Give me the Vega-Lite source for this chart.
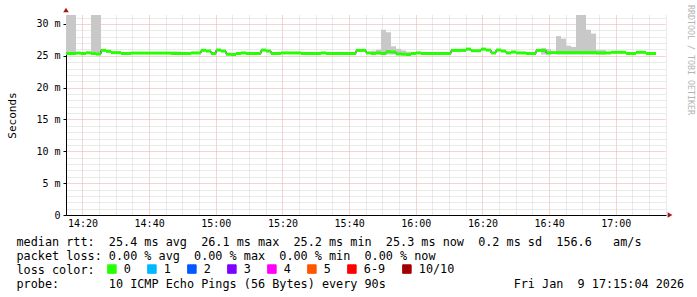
{
  "$schema": "https://vega.github.io/schema/vega-lite/v6.json",
  "width": 600,
  "height": 200,
  "autosize": {"type": "none"},
  "padding": {"left": 66, "top": 15, "right": 31, "bottom": 82},
  "background": "white",
  "config": {"view": {"stroke": null}, "font": "DejaVu Sans Mono"},
  "title": {"text": "RRDTOOL / TOBI OETIKER", "orient": "right", "anchor": "start", "frame": "group", "angle": 90, "baseline": "bottom", "dx": -10, "font": "DejaVu Sans Mono", "fontSize": 8.3, "fontWeight": "normal", "color": "#b4b4b4", "offset": -6},
  "layer": [
    {
      "data": {
        "values": [
          {"t": "2026-01-09T14:15:04", "e": "2026-01-09T14:16:34", "lo": 25.2, "hi": 33},
          {"t": "2026-01-09T14:16:34", "e": "2026-01-09T14:18:04", "lo": 25.2, "hi": 33},
          {"t": "2026-01-09T14:22:34", "e": "2026-01-09T14:24:04", "lo": 25.2, "hi": 33},
          {"t": "2026-01-09T14:24:04", "e": "2026-01-09T14:25:34", "lo": 25.2, "hi": 33},
          {"t": "2026-01-09T14:31:34", "e": "2026-01-09T14:33:04", "lo": 25.2, "hi": 25.6},
          {"t": "2026-01-09T14:46:34", "e": "2026-01-09T14:48:04", "lo": 25.2, "hi": 25.7},
          {"t": "2026-01-09T14:48:04", "e": "2026-01-09T14:49:34", "lo": 25.2, "hi": 25.7},
          {"t": "2026-01-09T15:28:34", "e": "2026-01-09T15:30:04", "lo": 25.2, "hi": 25.55},
          {"t": "2026-01-09T15:30:04", "e": "2026-01-09T15:31:34", "lo": 25.2, "hi": 25.55},
          {"t": "2026-01-09T15:46:34", "e": "2026-01-09T15:48:04", "lo": 25.2, "hi": 25.8},
          {"t": "2026-01-09T15:48:04", "e": "2026-01-09T15:49:34", "lo": 25.2, "hi": 25.95},
          {"t": "2026-01-09T15:49:34", "e": "2026-01-09T15:51:04", "lo": 25.2, "hi": 29.1},
          {"t": "2026-01-09T15:51:04", "e": "2026-01-09T15:52:34", "lo": 25.2, "hi": 28.7},
          {"t": "2026-01-09T15:52:34", "e": "2026-01-09T15:54:04", "lo": 25.2, "hi": 26.5},
          {"t": "2026-01-09T15:54:04", "e": "2026-01-09T15:55:34", "lo": 25.2, "hi": 26.1},
          {"t": "2026-01-09T15:55:34", "e": "2026-01-09T15:57:04", "lo": 25.2, "hi": 25.85},
          {"t": "2026-01-09T15:57:04", "e": "2026-01-09T15:58:34", "lo": 25.2, "hi": 25.65},
          {"t": "2026-01-09T16:37:34", "e": "2026-01-09T16:39:04", "lo": 25.2, "hi": 26.2},
          {"t": "2026-01-09T16:39:04", "e": "2026-01-09T16:40:34", "lo": 25.2, "hi": 26.05},
          {"t": "2026-01-09T16:42:04", "e": "2026-01-09T16:43:34", "lo": 25.2, "hi": 28.1},
          {"t": "2026-01-09T16:43:34", "e": "2026-01-09T16:45:04", "lo": 25.2, "hi": 27.7},
          {"t": "2026-01-09T16:45:04", "e": "2026-01-09T16:46:34", "lo": 25.2, "hi": 26.6},
          {"t": "2026-01-09T16:46:34", "e": "2026-01-09T16:48:04", "lo": 25.2, "hi": 26.4},
          {"t": "2026-01-09T16:48:04", "e": "2026-01-09T16:49:34", "lo": 25.2, "hi": 33},
          {"t": "2026-01-09T16:49:34", "e": "2026-01-09T16:51:04", "lo": 25.2, "hi": 33},
          {"t": "2026-01-09T16:51:04", "e": "2026-01-09T16:52:34", "lo": 25.2, "hi": 29.1},
          {"t": "2026-01-09T16:52:34", "e": "2026-01-09T16:54:04", "lo": 25.2, "hi": 28.5},
          {"t": "2026-01-09T16:54:04", "e": "2026-01-09T16:55:34", "lo": 25.2, "hi": 25.9},
          {"t": "2026-01-09T16:55:34", "e": "2026-01-09T16:57:04", "lo": 25.2, "hi": 25.9}
        ]
      },
      "mark": {"type": "rect", "color": "#c8c8c8", "clip": true},
      "encoding": {
        "x": {
          "field": "t", "type": "temporal",
          "scale": {"nice": false, "domain": [
            {"year": 2026, "month": 1, "date": 9, "hours": 14, "minutes": 15, "seconds": 4},
            {"year": 2026, "month": 1, "date": 9, "hours": 17, "minutes": 15, "seconds": 4}]},
          "axis": {
            "tickCount": 36,
            "labelExpr": "minutes(datum.value) % 20 == 0 ? timeFormat(datum.value, '%H:%M') : ''",
            "labelFont": "DejaVu Sans Mono", "labelFontSize": 10, "labelColor": "black",
            "labelPadding": 3, "labelFlush": false, "labelOverlap": false,
            "ticks": false, "domainColor": "black",
            "gridColor": {"condition": {"test": "minutes(datum.value) % 20 == 0", "value": "#e6aaaa"}, "value": "#d4d4d4"},
            "gridDash": [1, 1],
            "title": [
              "median rtt:\u00a0\u00a025.4 ms avg\u00a0\u00a026.1 ms max\u00a0\u00a025.2 ms min\u00a0\u00a025.3 ms now\u00a0\u00a00.2 ms sd\u00a0\u00a0156.6\u00a0\u00a0\u00a0am/s",
              "packet loss: 0.00 % avg\u00a0\u00a00.00 % max\u00a0\u00a00.00 % min\u00a0\u00a00.00 % now",
              "loss color:",
              "probe:\u00a0\u00a0\u00a0\u00a0\u00a0\u00a0\u00a010 ICMP Echo Pings (56 Bytes) every 90s\u00a0\u00a0\u00a0\u00a0\u00a0\u00a0\u00a0\u00a0\u00a0\u00a0\u00a0\u00a0\u00a0\u00a0\u00a0\u00a0\u00a0\u00a0Fri Jan\u00a0\u00a09 17:15:04 2026"
            ],
            "titleFont": "DejaVu Sans Mono", "titleFontSize": 11.8, "titleFontWeight": "normal",
            "titleColor": "black", "titleAlign": "left", "titleBaseline": "alphabetic",
            "titleX": -50, "titleY": 30, "titleLineHeight": 14, "titleLimit": 2000
          }
        },
        "x2": {"field": "e"},
        "y": {
          "field": "lo", "type": "quantitative",
          "scale": {"domain": [0, 31.41], "nice": false, "zero": true},
          "axis": {
            "values": [0,1,2,3,4,5,6,7,8,9,10,11,12,13,14,15,16,17,18,19,20,21,22,23,24,25,26,27,28,29,30,31],
            "tickCount": 40,
            "labelExpr": "datum.value % 5 == 0 ? (datum.value == 0 ? '0' : datum.value + ' m') : ''",
            "labelFont": "DejaVu Sans Mono", "labelFontSize": 10, "labelColor": "black",
            "labelPadding": 3, "tickSize": 3,
            "tickColor": {"condition": {"test": "datum.value % 5 == 0", "value": "black"}, "value": "transparent"},
            "domainColor": "black",
            "gridColor": {"condition": {"test": "datum.value % 5 == 0", "value": "#e6aaaa"}, "value": "#d4d4d4"},
            "gridDash": [1, 1],
            "title": "Seconds", "titleFont": "DejaVu Sans Mono", "titleFontSize": 11,
            "titleFontWeight": "normal", "titleColor": "black", "titleAngle": -90,
            "titleX": -51, "titleY": 100, "titleAlign": "center", "titleBaseline": "alphabetic"
          }
        },
        "y2": {"field": "hi"}
      }
    },
    {
      "data": {
        "values": [
          {"t": "2026-01-09T14:15:04", "e": "2026-01-09T14:16:34", "m": 25.36},
          {"t": "2026-01-09T14:16:34", "e": "2026-01-09T14:18:04", "m": 25.36},
          {"t": "2026-01-09T14:18:04", "e": "2026-01-09T14:19:34", "m": 25.43},
          {"t": "2026-01-09T14:19:34", "e": "2026-01-09T14:21:04", "m": 25.36},
          {"t": "2026-01-09T14:21:04", "e": "2026-01-09T14:22:34", "m": 25.47},
          {"t": "2026-01-09T14:22:34", "e": "2026-01-09T14:24:04", "m": 25.36},
          {"t": "2026-01-09T14:24:04", "e": "2026-01-09T14:25:34", "m": 25.28},
          {"t": "2026-01-09T14:25:34", "e": "2026-01-09T14:27:04", "m": 25.86},
          {"t": "2026-01-09T14:27:04", "e": "2026-01-09T14:28:34", "m": 25.7},
          {"t": "2026-01-09T14:28:34", "e": "2026-01-09T14:30:04", "m": 25.5},
          {"t": "2026-01-09T14:30:04", "e": "2026-01-09T14:31:34", "m": 25.5},
          {"t": "2026-01-09T14:31:34", "e": "2026-01-09T14:33:04", "m": 25.36},
          {"t": "2026-01-09T14:33:04", "e": "2026-01-09T14:34:34", "m": 25.36},
          {"t": "2026-01-09T14:34:34", "e": "2026-01-09T14:36:04", "m": 25.43},
          {"t": "2026-01-09T14:36:04", "e": "2026-01-09T14:37:34", "m": 25.43},
          {"t": "2026-01-09T14:37:34", "e": "2026-01-09T14:39:04", "m": 25.43},
          {"t": "2026-01-09T14:39:04", "e": "2026-01-09T14:40:34", "m": 25.43},
          {"t": "2026-01-09T14:40:34", "e": "2026-01-09T14:42:04", "m": 25.43},
          {"t": "2026-01-09T14:42:04", "e": "2026-01-09T14:43:34", "m": 25.43},
          {"t": "2026-01-09T14:43:34", "e": "2026-01-09T14:45:04", "m": 25.43},
          {"t": "2026-01-09T14:45:04", "e": "2026-01-09T14:46:34", "m": 25.43},
          {"t": "2026-01-09T14:46:34", "e": "2026-01-09T14:48:04", "m": 25.36},
          {"t": "2026-01-09T14:48:04", "e": "2026-01-09T14:49:34", "m": 25.36},
          {"t": "2026-01-09T14:49:34", "e": "2026-01-09T14:51:04", "m": 25.36},
          {"t": "2026-01-09T14:51:04", "e": "2026-01-09T14:52:34", "m": 25.36},
          {"t": "2026-01-09T14:52:34", "e": "2026-01-09T14:54:04", "m": 25.45},
          {"t": "2026-01-09T14:54:04", "e": "2026-01-09T14:55:34", "m": 25.45},
          {"t": "2026-01-09T14:55:34", "e": "2026-01-09T14:57:04", "m": 25.86},
          {"t": "2026-01-09T14:57:04", "e": "2026-01-09T14:58:34", "m": 25.75},
          {"t": "2026-01-09T14:58:34", "e": "2026-01-09T15:00:04", "m": 25.36},
          {"t": "2026-01-09T15:00:04", "e": "2026-01-09T15:01:34", "m": 25.9},
          {"t": "2026-01-09T15:01:34", "e": "2026-01-09T15:03:04", "m": 25.75},
          {"t": "2026-01-09T15:03:04", "e": "2026-01-09T15:04:34", "m": 25.25},
          {"t": "2026-01-09T15:04:34", "e": "2026-01-09T15:06:04", "m": 25.2},
          {"t": "2026-01-09T15:06:04", "e": "2026-01-09T15:07:34", "m": 25.36},
          {"t": "2026-01-09T15:07:34", "e": "2026-01-09T15:09:04", "m": 25.45},
          {"t": "2026-01-09T15:09:04", "e": "2026-01-09T15:10:34", "m": 25.36},
          {"t": "2026-01-09T15:10:34", "e": "2026-01-09T15:12:04", "m": 25.36},
          {"t": "2026-01-09T15:12:04", "e": "2026-01-09T15:13:34", "m": 25.36},
          {"t": "2026-01-09T15:13:34", "e": "2026-01-09T15:15:04", "m": 25.9},
          {"t": "2026-01-09T15:15:04", "e": "2026-01-09T15:16:34", "m": 25.75},
          {"t": "2026-01-09T15:16:34", "e": "2026-01-09T15:18:04", "m": 25.36},
          {"t": "2026-01-09T15:18:04", "e": "2026-01-09T15:19:34", "m": 25.36},
          {"t": "2026-01-09T15:19:34", "e": "2026-01-09T15:21:04", "m": 25.45},
          {"t": "2026-01-09T15:21:04", "e": "2026-01-09T15:22:34", "m": 25.45},
          {"t": "2026-01-09T15:22:34", "e": "2026-01-09T15:24:04", "m": 25.45},
          {"t": "2026-01-09T15:24:04", "e": "2026-01-09T15:25:34", "m": 25.45},
          {"t": "2026-01-09T15:25:34", "e": "2026-01-09T15:27:04", "m": 25.36},
          {"t": "2026-01-09T15:27:04", "e": "2026-01-09T15:28:34", "m": 25.36},
          {"t": "2026-01-09T15:28:34", "e": "2026-01-09T15:30:04", "m": 25.36},
          {"t": "2026-01-09T15:30:04", "e": "2026-01-09T15:31:34", "m": 25.36},
          {"t": "2026-01-09T15:31:34", "e": "2026-01-09T15:33:04", "m": 25.45},
          {"t": "2026-01-09T15:33:04", "e": "2026-01-09T15:34:34", "m": 25.36},
          {"t": "2026-01-09T15:34:34", "e": "2026-01-09T15:36:04", "m": 25.36},
          {"t": "2026-01-09T15:36:04", "e": "2026-01-09T15:37:34", "m": 25.36},
          {"t": "2026-01-09T15:37:34", "e": "2026-01-09T15:39:04", "m": 25.36},
          {"t": "2026-01-09T15:39:04", "e": "2026-01-09T15:40:34", "m": 25.36},
          {"t": "2026-01-09T15:40:34", "e": "2026-01-09T15:42:04", "m": 25.36},
          {"t": "2026-01-09T15:42:04", "e": "2026-01-09T15:43:34", "m": 25.85},
          {"t": "2026-01-09T15:43:34", "e": "2026-01-09T15:45:04", "m": 25.85},
          {"t": "2026-01-09T15:45:04", "e": "2026-01-09T15:46:34", "m": 25.45},
          {"t": "2026-01-09T15:46:34", "e": "2026-01-09T15:48:04", "m": 25.36},
          {"t": "2026-01-09T15:48:04", "e": "2026-01-09T15:49:34", "m": 25.45},
          {"t": "2026-01-09T15:49:34", "e": "2026-01-09T15:51:04", "m": 25.36},
          {"t": "2026-01-09T15:51:04", "e": "2026-01-09T15:52:34", "m": 25.65},
          {"t": "2026-01-09T15:52:34", "e": "2026-01-09T15:54:04", "m": 25.6},
          {"t": "2026-01-09T15:54:04", "e": "2026-01-09T15:55:34", "m": 25.3},
          {"t": "2026-01-09T15:55:34", "e": "2026-01-09T15:57:04", "m": 25.25},
          {"t": "2026-01-09T15:57:04", "e": "2026-01-09T15:58:34", "m": 25.2},
          {"t": "2026-01-09T15:58:34", "e": "2026-01-09T16:00:04", "m": 25.36},
          {"t": "2026-01-09T16:00:04", "e": "2026-01-09T16:01:34", "m": 25.45},
          {"t": "2026-01-09T16:01:34", "e": "2026-01-09T16:03:04", "m": 25.36},
          {"t": "2026-01-09T16:03:04", "e": "2026-01-09T16:04:34", "m": 25.36},
          {"t": "2026-01-09T16:04:34", "e": "2026-01-09T16:06:04", "m": 25.36},
          {"t": "2026-01-09T16:06:04", "e": "2026-01-09T16:07:34", "m": 25.36},
          {"t": "2026-01-09T16:07:34", "e": "2026-01-09T16:09:04", "m": 25.36},
          {"t": "2026-01-09T16:09:04", "e": "2026-01-09T16:10:34", "m": 25.36},
          {"t": "2026-01-09T16:10:34", "e": "2026-01-09T16:12:04", "m": 25.85},
          {"t": "2026-01-09T16:12:04", "e": "2026-01-09T16:13:34", "m": 25.85},
          {"t": "2026-01-09T16:13:34", "e": "2026-01-09T16:15:04", "m": 25.85},
          {"t": "2026-01-09T16:15:04", "e": "2026-01-09T16:16:34", "m": 26.05},
          {"t": "2026-01-09T16:16:34", "e": "2026-01-09T16:18:04", "m": 25.8},
          {"t": "2026-01-09T16:18:04", "e": "2026-01-09T16:19:34", "m": 25.8},
          {"t": "2026-01-09T16:19:34", "e": "2026-01-09T16:21:04", "m": 26.05},
          {"t": "2026-01-09T16:21:04", "e": "2026-01-09T16:22:34", "m": 25.9},
          {"t": "2026-01-09T16:22:34", "e": "2026-01-09T16:24:04", "m": 25.45},
          {"t": "2026-01-09T16:24:04", "e": "2026-01-09T16:25:34", "m": 25.9},
          {"t": "2026-01-09T16:25:34", "e": "2026-01-09T16:27:04", "m": 25.75},
          {"t": "2026-01-09T16:27:04", "e": "2026-01-09T16:28:34", "m": 25.45},
          {"t": "2026-01-09T16:28:34", "e": "2026-01-09T16:30:04", "m": 25.6},
          {"t": "2026-01-09T16:30:04", "e": "2026-01-09T16:31:34", "m": 25.45},
          {"t": "2026-01-09T16:31:34", "e": "2026-01-09T16:33:04", "m": 25.45},
          {"t": "2026-01-09T16:33:04", "e": "2026-01-09T16:34:34", "m": 25.36},
          {"t": "2026-01-09T16:34:34", "e": "2026-01-09T16:36:04", "m": 25.36},
          {"t": "2026-01-09T16:36:04", "e": "2026-01-09T16:37:34", "m": 25.85},
          {"t": "2026-01-09T16:37:34", "e": "2026-01-09T16:39:04", "m": 25.85},
          {"t": "2026-01-09T16:39:04", "e": "2026-01-09T16:40:34", "m": 25.45},
          {"t": "2026-01-09T16:40:34", "e": "2026-01-09T16:42:04", "m": 25.5},
          {"t": "2026-01-09T16:42:04", "e": "2026-01-09T16:43:34", "m": 25.5},
          {"t": "2026-01-09T16:43:34", "e": "2026-01-09T16:45:04", "m": 25.5},
          {"t": "2026-01-09T16:45:04", "e": "2026-01-09T16:46:34", "m": 25.5},
          {"t": "2026-01-09T16:46:34", "e": "2026-01-09T16:48:04", "m": 25.5},
          {"t": "2026-01-09T16:48:04", "e": "2026-01-09T16:49:34", "m": 25.5},
          {"t": "2026-01-09T16:49:34", "e": "2026-01-09T16:51:04", "m": 25.5},
          {"t": "2026-01-09T16:51:04", "e": "2026-01-09T16:52:34", "m": 25.5},
          {"t": "2026-01-09T16:52:34", "e": "2026-01-09T16:54:04", "m": 25.5},
          {"t": "2026-01-09T16:54:04", "e": "2026-01-09T16:55:34", "m": 25.45},
          {"t": "2026-01-09T16:55:34", "e": "2026-01-09T16:57:04", "m": 25.45},
          {"t": "2026-01-09T16:57:04", "e": "2026-01-09T16:58:34", "m": 25.45},
          {"t": "2026-01-09T16:58:34", "e": "2026-01-09T17:00:04", "m": 25.55},
          {"t": "2026-01-09T17:00:04", "e": "2026-01-09T17:01:34", "m": 25.55},
          {"t": "2026-01-09T17:01:34", "e": "2026-01-09T17:03:04", "m": 25.55},
          {"t": "2026-01-09T17:03:04", "e": "2026-01-09T17:04:34", "m": 25.36},
          {"t": "2026-01-09T17:04:34", "e": "2026-01-09T17:06:04", "m": 25.36},
          {"t": "2026-01-09T17:06:04", "e": "2026-01-09T17:07:34", "m": 25.55},
          {"t": "2026-01-09T17:07:34", "e": "2026-01-09T17:09:04", "m": 25.55},
          {"t": "2026-01-09T17:09:04", "e": "2026-01-09T17:10:34", "m": 25.36},
          {"t": "2026-01-09T17:10:34", "e": "2026-01-09T17:12:04", "m": 25.36}
        ]
      },
      "layer": [
        {
          "mark": {"type": "line", "interpolate": "step-after", "color": "#202020", "strokeWidth": 1},
          "encoding": {
            "x": {"field": "t", "type": "temporal"},
            "y": {"field": "m", "type": "quantitative"}
          }
        },
        {
          "mark": {"type": "rule", "strokeWidth": 3, "strokeCap": "butt"},
          "encoding": {
            "x": {"field": "t", "type": "temporal"},
            "x2": {"field": "e"},
            "y": {"field": "m", "type": "quantitative"},
            "color": {
              "datum": "0", "type": "nominal",
              "scale": {
                "domain": ["0", "1", "2", "3", "4", "5", "6-9", "10/10"],
                "range": ["#26ff00", "#00b8ff", "#0059ff", "#7e00ff", "#ff00ff", "#ff5500", "#ff0000", "#a10000"]
              },
              "legend": {
                "orient": "none", "legendX": 40, "legendY": 248, "direction": "horizontal",
                "title": null, "padding": 0, "symbolType": "square", "symbolSize": 72,
                "symbolStrokeColor": "black", "symbolStrokeWidth": 1,
                "labelFont": "DejaVu Sans Mono", "labelFontSize": 11.8, "labelColor": "black",
                "labelOffset": 6, "columnPadding": 14,
                "encode": {"symbols": {"update": {"fill": {"scale": "color", "field": "value"}, "stroke": {"value": "black"}}}}
              }
            }
          }
        }
      ]
    },
    {
      "data": {"values": [{"t": "2026-01-09T14:15:04", "v": 31.41}]},
      "mark": {"type": "point", "shape": "triangle-up", "filled": true, "color": "#a01818", "size": 30, "yOffset": -5, "opacity": 1, "clip": false},
      "encoding": {
        "x": {"field": "t", "type": "temporal"},
        "y": {"field": "v", "type": "quantitative"}
      }
    },
    {
      "data": {"values": [{"t": "2026-01-09T17:15:04", "v": 0}]},
      "mark": {"type": "point", "shape": "triangle-right", "filled": true, "color": "#a01818", "size": 30, "xOffset": 4, "opacity": 1, "clip": false},
      "encoding": {
        "x": {"field": "t", "type": "temporal"},
        "y": {"field": "v", "type": "quantitative"}
      }
    }
  ]
}
